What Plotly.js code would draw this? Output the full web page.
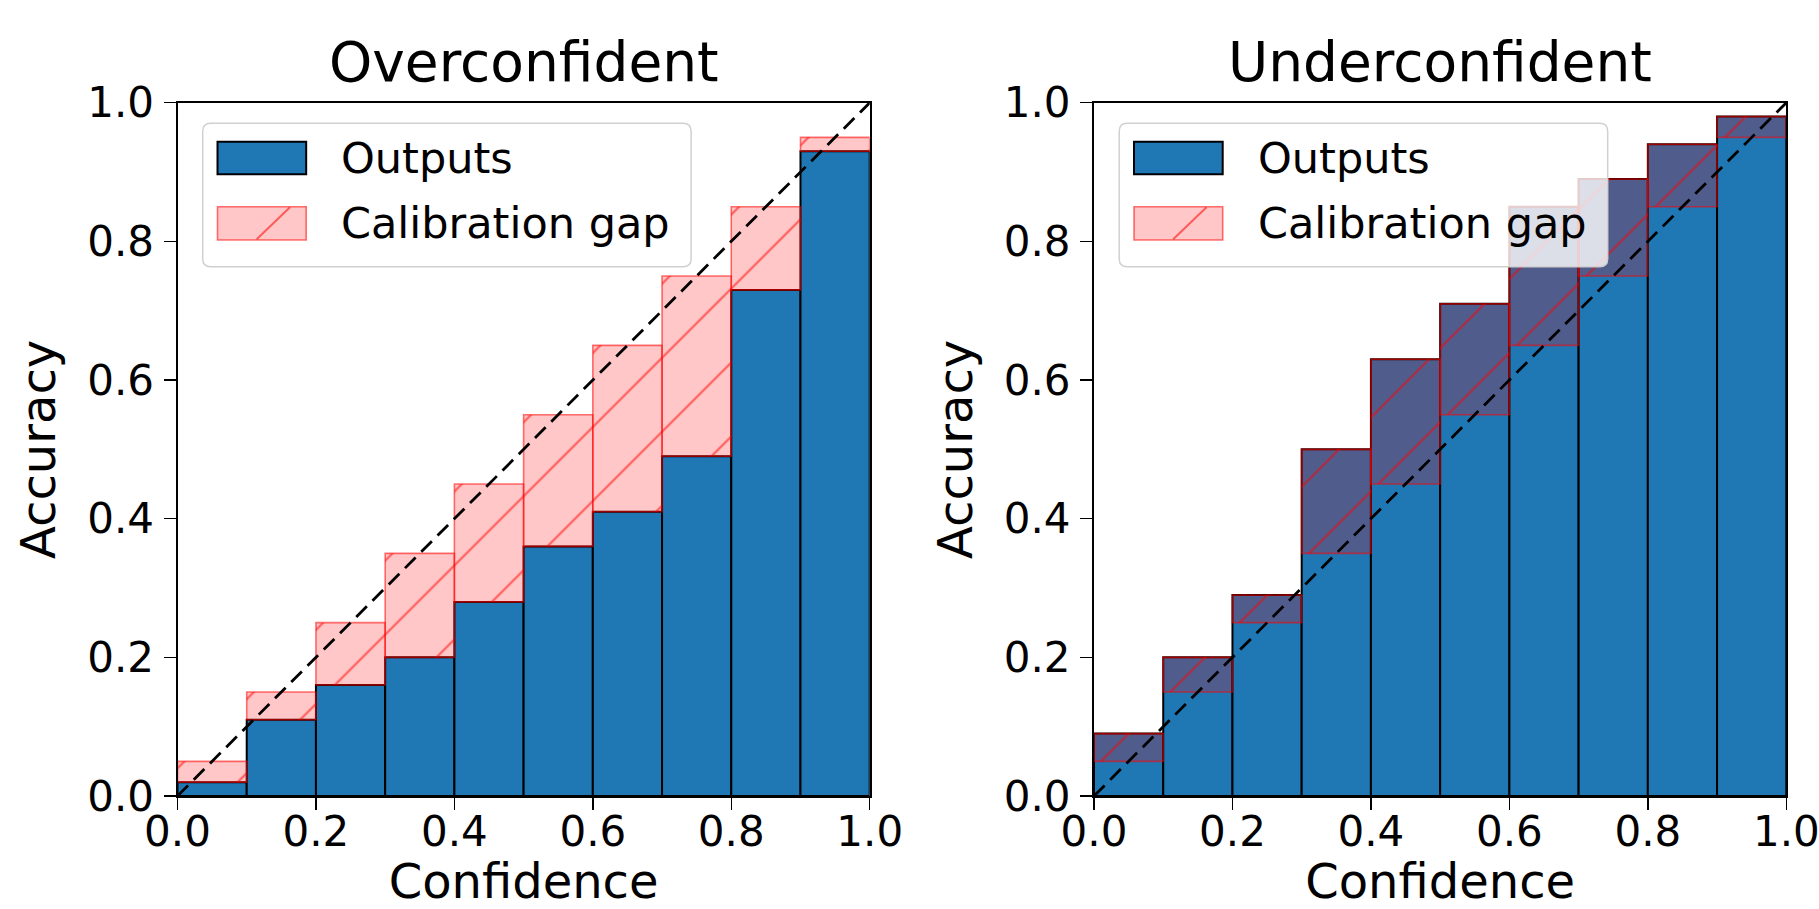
<!DOCTYPE html>
<html><head><meta charset="utf-8">
<script src="https://cdn.plot.ly/plotly-3.0.1.min.js"></script>
<style>html,body{margin:0;padding:0;background:#fff;} #chart{width:1819px;height:909px;}</style>
</head><body><div id="chart"></div>
<script>
// ---- data ----
const binCenters = [0.05, 0.15, 0.25, 0.35, 0.45, 0.55, 0.65, 0.75, 0.85, 0.95];
const accOver  = [0.02, 0.11, 0.16, 0.20, 0.28, 0.36, 0.41, 0.49, 0.73, 0.93];
const accUnder = [0.09, 0.20, 0.29, 0.50, 0.63, 0.71, 0.85, 0.89, 0.94, 0.98];
const diagX = [0, 1];
const diagY = [0, 1];
const tickVals = [0, 0.2, 0.4, 0.6, 0.8, 1.0];
const tickText = ['0.0', '0.2', '0.4', '0.6', '0.8', '1.0'];
const panelTitles = ['Overconfident', 'Underconfident'];
const legendLabels = ['Outputs', 'Calibration gap'];

// ---- styles ----
const BLUE = '#1f77b4';
const GAP_FILL = 'rgba(255,0,0,0.22)';
const GAP_EDGE = 'rgba(255,0,0,0.55)';
const FONT = 'DejaVu Sans';

function panelTraces(acc, xa, ya) {
  const base = acc.map((a, i) => Math.min(a, binCenters[i]));
  const gap = acc.map((a, i) => Math.abs(binCenters[i] - a));
  return [
    {type: 'bar', x: binCenters, y: acc, width: 0.1, xaxis: xa, yaxis: ya, name: legendLabels[0],
     showlegend: false, hoverinfo: 'skip',
     marker: {color: BLUE, line: {color: 'black', width: 2}}},
    {type: 'bar', x: binCenters, y: gap, base: base, width: 0.1, xaxis: xa, yaxis: ya, name: legendLabels[1],
     showlegend: false, hoverinfo: 'skip',
     marker: {color: GAP_FILL, line: {color: GAP_EDGE, width: 1.6},
              pattern: {shape: '/', fgcolor: 'rgb(255,0,0)', fgopacity: 0.55, bgcolor: GAP_FILL,
                        size: 52.3, solidity: 0.04}}},
    {type: 'scatter', mode: 'lines', x: diagX, y: diagY, xaxis: xa, yaxis: ya, showlegend: false,
     hoverinfo: 'skip', line: {color: 'black', width: 2.8, dash: '15px,8px'}}
  ];
}

const data = [].concat(panelTraces(accOver, 'x', 'y'), panelTraces(accUnder, 'x2', 'y2'));

function axisCommon(extra) {
  return Object.assign({
    range: [0, 1], tickvals: tickVals, ticktext: tickText,
    showgrid: false, zeroline: false, showline: true, mirror: true,
    linecolor: 'black', linewidth: 2, ticks: 'outside', ticklen: 12, tickwidth: 1.5,
    tickcolor: 'black', tickfont: {family: FONT, size: 42, color: 'black'}, fixedrange: true,
    ticklabeloverflow: 'allow'
  }, extra);
}

const W = 1819, H = 909;
const yDom = [(H - 796) / H, (H - 102.7) / H];

function roundRect(x0, y0, x1, y1, rx, ry) {
  return `M${x0 + rx},${y1} L${x1 - rx},${y1} Q${x1},${y1} ${x1},${y1 - ry} L${x1},${y0 + ry} Q${x1},${y0} ${x1 - rx},${y0} ` +
         `L${x0 + rx},${y0} Q${x0},${y0} ${x0},${y0 + ry} L${x0},${y1 - ry} Q${x0},${y1} ${x0 + rx},${y1} Z`;
}

const shapes = [], annotations = [];
[['x', 'y'], ['x2', 'y2']].forEach(([xr, yr], k) => {
  shapes.push({type: 'path', xref: xr, yref: yr, layer: 'above',
    path: roundRect(0.0364, 0.7634, 0.742, 0.9702, 0.0116, 0.0116),
    fillcolor: 'rgba(255,255,255,0.8)', line: {color: '#d0d0d0', width: 1.5}});
  shapes.push({type: 'rect', xref: xr, yref: yr, layer: 'above', x0: 0.0578, x1: 0.1859, y0: 0.8967, y1: 0.9438,
    fillcolor: BLUE, line: {color: 'black', width: 2}});
  shapes.push({type: 'rect', xref: xr, yref: yr, layer: 'above', x0: 0.0578, x1: 0.1859, y0: 0.8020, y1: 0.8500,
    fillcolor: GAP_FILL, line: {color: GAP_EDGE, width: 1.6}});
  shapes.push({type: 'line', xref: xr, yref: yr, layer: 'above', x0: 0.1144, y0: 0.8030, x1: 0.1625, y1: 0.8491,
    line: {color: GAP_EDGE, width: 2}});
  annotations.push({xref: xr, yref: yr, x: 0.2338, y: 0.9202, xanchor: 'left', yanchor: 'middle', showarrow: false,
    text: legendLabels[0], font: {family: FONT, size: 43, color: 'black'}});
  annotations.push({xref: xr, yref: yr, x: 0.2338, y: 0.8259, xanchor: 'left', yanchor: 'middle', showarrow: false,
    text: legendLabels[1], font: {family: FONT, size: 43, color: 'black'}});
  annotations.push({xref: xr + ' domain', yref: yr + ' domain', x: 0.5, y: 1.0096, xanchor: 'center', yanchor: 'bottom',
    showarrow: false, text: panelTitles[k], font: {family: FONT, size: 55, color: 'black'}});
});

const xTitle = {text: 'Confidence', font: {family: FONT, size: 48, color: 'black'}, standoff: 49};
const yTitle = {text: 'Accuracy', font: {family: FONT, size: 48, color: 'black'}, standoff: 16};

const layout = {
  width: W, height: H, margin: {l: 0, r: 0, t: 0, b: 0},
  paper_bgcolor: 'white', plot_bgcolor: 'white', showlegend: false,
  font: {family: FONT, color: 'black'}, barmode: 'overlay', bargap: 0,
  xaxis: axisCommon({domain: [177.5 / W, 869.7 / W], anchor: 'y', ticklabelstandoff: -14, title: xTitle}),
  yaxis: axisCommon({domain: yDom, anchor: 'x', ticklabelstandoff: 1, title: yTitle}),
  xaxis2: axisCommon({domain: [1094 / W, 1786.3 / W], anchor: 'y2', ticklabelstandoff: -14, title: xTitle}),
  yaxis2: axisCommon({domain: yDom, anchor: 'x2', ticklabelstandoff: 1, title: yTitle}),
  shapes: shapes, annotations: annotations
};

Plotly.newPlot('chart', data, layout, {staticPlot: true, displayModeBar: false});
</script>
</body></html>
